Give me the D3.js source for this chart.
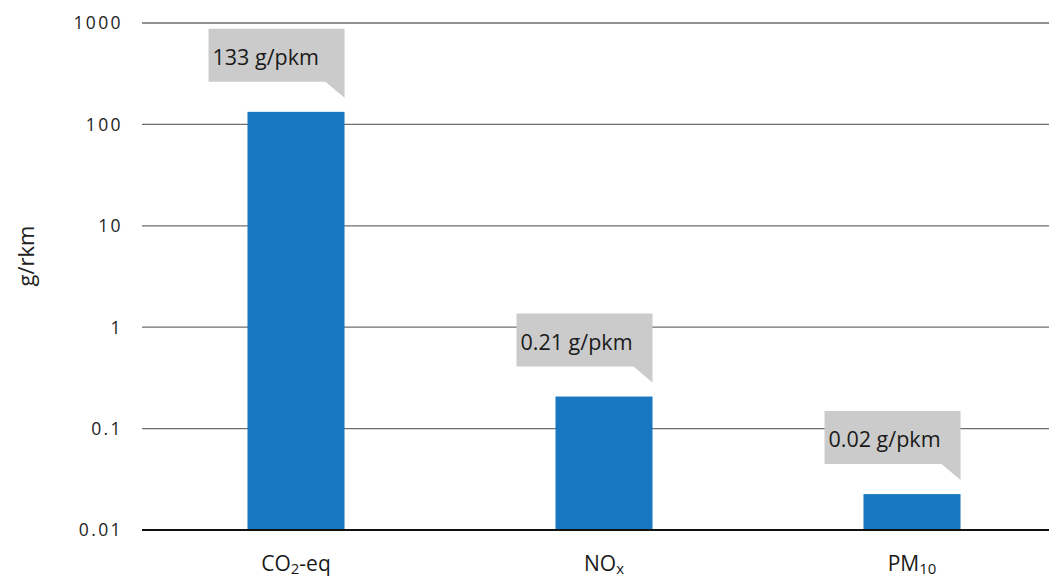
<!DOCTYPE html>
<html>
<head>
<meta charset="utf-8">
<script src="https://cdn.jsdelivr.net/npm/d3@7"></script>
<style>
  html, body { margin: 0; padding: 0; background: #fff; }
  svg { display: block; }
</style>
</head>
<body>
<svg id="chart" width="1049" height="580"></svg>
<script>
// ---- data ----
const categories = ["CO2-eq", "NOx", "PM10"];
const categoryMain = ["CO", "NO", "PM"];
const categorySub = ["2", "x", "10"];
const categoryTail = ["-eq", "", ""];
const values = [133, 0.207, 0.0226];
const calloutLabels = ["133 g/pkm", "0.21 g/pkm", "0.02 g/pkm"];
const tickValues = [0.01, 0.1, 1, 10, 100, 1000];
const tickLabels = ["0.01", "0.1", "1", "10", "100", "1000"];
const yTitle = "g/rkm";

// ---- layout ----
const plotL = 142, plotR = 1049, plotT = 23, plotB = 530;
const svg = d3.select("#chart");

const y = d3.scaleLog().domain([0.01, 1000]).range([plotB, plotT]);
const x = d3.scaleBand().domain(categories).range([plotL, 1066]).paddingInner(0.685).paddingOuter(0.3425);

// gridlines
svg.append("g").selectAll("line")
  .data(tickValues.filter(v => v !== 0.01))
  .join("line")
  .attr("x1", plotL).attr("x2", plotR)
  .attr("y1", d => y(d)).attr("y2", d => y(d))
  .attr("stroke", "#6e6e6e").attr("stroke-width", 1.3);

// tick labels
svg.append("g").selectAll("text")
  .data(tickValues)
  .join("text")
  .attr("x", 123).attr("y", d => y(d))
  .attr("dy", "0.36em")
  .attr("text-anchor", "end")
  .attr("font-family", "'Open Sans', sans-serif")
  .attr("font-size", 17.5)
  .attr("letter-spacing", 2.4)
  .attr("fill", "#222")
  .text((d, i) => tickLabels[i]);

// y title
svg.append("text")
  .attr("transform", `translate(34,256) rotate(-90)`)
  .attr("text-anchor", "middle")
  .attr("font-family", "'Open Sans', sans-serif")
  .attr("font-size", 22)
  .attr("fill", "#222")
  .text(yTitle);

// bars
svg.append("g").selectAll("rect")
  .data(values)
  .join("rect")
  .attr("x", (d, i) => x(categories[i]))
  .attr("width", x.bandwidth())
  .attr("y", d => y(d))
  .attr("height", d => plotB - y(d))
  .attr("fill", "#1778c1");

// baseline
svg.append("line")
  .attr("x1", plotL).attr("x2", plotR)
  .attr("y1", plotB).attr("y2", plotB)
  .attr("stroke", "#111").attr("stroke-width", 2);

// callouts
const boxW = 136, boxH = 53, tailW = 19, tailH = 16, gap = 14;
const cg = svg.append("g").selectAll("g")
  .data(values)
  .join("g")
  .attr("transform", (d, i) => {
    const xr = x(categories[i]) + x.bandwidth();
    const tip = y(d) - gap;
    return `translate(${xr - boxW},${tip - tailH - boxH})`;
  });
cg.append("path")
  .attr("d", `M0,0H${boxW}V${boxH + tailH}L${boxW - tailW},${boxH}H0Z`)
  .attr("fill", "#cbcbcb");
cg.append("text")
  .attr("x", 4).attr("y", 36)
  .attr("font-family", "'Open Sans', sans-serif")
  .attr("font-size", 21.5)
  .attr("fill", "#1a1a1a")
  .text((d, i) => calloutLabels[i]);

// category labels
const cl = svg.append("g").selectAll("text")
  .data(categories)
  .join("text")
  .attr("x", d => x(d) + x.bandwidth() / 2)
  .attr("y", 571)
  .attr("text-anchor", "middle")
  .attr("font-family", "'Open Sans', sans-serif")
  .attr("font-size", 21)
  .attr("fill", "#1a1a1a");
cl.append("tspan").text((d, i) => categoryMain[i]);
cl.append("tspan").attr("font-size", 15).attr("dy", 3).text((d, i) => categorySub[i]);
cl.append("tspan").attr("dy", -3).text((d, i) => categoryTail[i]);
</script>
</body>
</html>
